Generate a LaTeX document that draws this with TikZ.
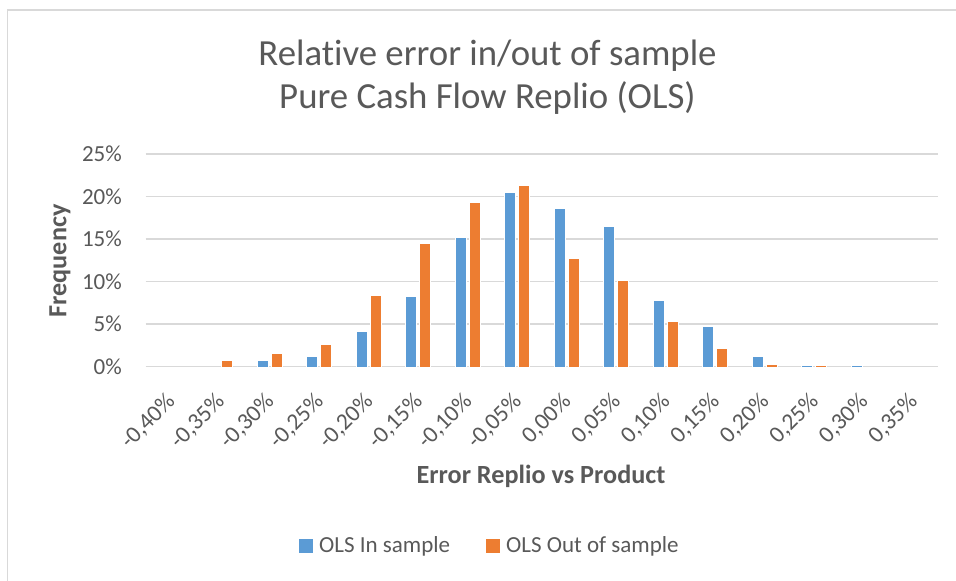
\documentclass[tikz,border=0pt]{standalone}
\usepackage{fontspec}
\setmainfont[Ligatures=NoCommon]{Carlito}
\definecolor{txtgray}{HTML}{595959}
\definecolor{gridgray}{HTML}{D9D9D9}
\definecolor{serA}{HTML}{5B9BD5}
\definecolor{serB}{HTML}{ED7D31}
\tikzset{
  gridline/.style={draw=gridgray,line width=1.5pt},
  barA/.style={fill=serA,draw=white,line width=0.4pt},
  barB/.style={fill=serB,draw=white,line width=0.4pt},
  ticklab/.style={text=txtgray,font=\fontsize{23}{26}\selectfont,inner sep=0pt},
  xlab/.style={text=txtgray,font=\fontsize{23.5}{26}\selectfont,inner sep=0pt,rotate=45,anchor=east},
  axtitle/.style={text=txtgray,font=\fontsize{26.2}{30}\selectfont\bfseries,inner sep=0pt},
  charttitle/.style={text=txtgray,font=\fontsize{36.8}{43}\selectfont,inner sep=0pt,align=center},
  legtext/.style={text=txtgray,font=\fontsize{23}{26}\selectfont,inner sep=0pt,anchor=west},
}
\begin{document}
\begin{tikzpicture}[x=1pt,y=-1pt]
\useasboundingbox (0,0) rectangle (956,581);
\clip (0,0) rectangle (956,581);
\fill[white] (0,0) rectangle (956,581);
\draw[gridgray,line width=1.5pt] (7.3,10) rectangle (980,600);
% gridlines and y labels
\foreach \k/\lab in {0/0\%,1/5\%,2/10\%,3/15\%,4/20\%,5/25\%}{
  \draw[gridline] (145.7,366.7-42.53*\k) -- (938,366.7-42.53*\k);
  \node[ticklab,anchor=east] (y\k) at (122,366.7-42.53*\k) {\lab};
}
% bars
\foreach \v [count=\i from 0] in {0,0,0.79,1.18,4.19,8.27,15.28,20.49,18.65,16.57,7.76,4.78,1.26,0.2,0.2,0}{
  \ifdim\v pt>0pt
    \fill[barA] (170.45+49.5*\i-12.5,366.7) rectangle (170.45+49.5*\i-1.4,366.7-8.506*\v);
  \fi
}
\foreach \v [count=\i from 0] in {0,0.79,1.57,2.59,8.39,14.57,19.39,21.39,12.77,10.19,5.37,2.16,0.35,0.2,0,0}{
  \ifdim\v pt>0pt
    \fill[barB] (170.45+49.5*\i+1.4,366.7) rectangle (170.45+49.5*\i+12.5,366.7-8.506*\v);
  \fi
}
% x labels
\foreach \lab [count=\i from 0] in {{-0,40\%},{-0,35\%},{-0,30\%},{-0,25\%},{-0,20\%},{-0,15\%},{-0,10\%},{-0,05\%},{0,00\%},{0,05\%},{0,10\%},{0,15\%},{0,20\%},{0,25\%},{0,30\%},{0,35\%}}{
  \node[xlab] (x\i) at (170.45+49.5*\i+1,398) {\lab};
}
% titles
\node[charttitle] (title) at (487.5,77) {Relative error in/out of sample\\Pure Cash Flow Replio (OLS)};
\node[axtitle,rotate=90] (ytitle) at (60,261) {Frequency};
\node[axtitle] (xtitle) at (541,476) {Error Replio vs Product};
% legend
\fill[serA] (299,539) rectangle (313,553);
\node[legtext] (legA) at (319,546) {OLS In sample};
\fill[serB] (486,539) rectangle (500,553);
\node[legtext] (legB) at (506,546) {OLS Out of sample};
\end{tikzpicture}
\end{document}
